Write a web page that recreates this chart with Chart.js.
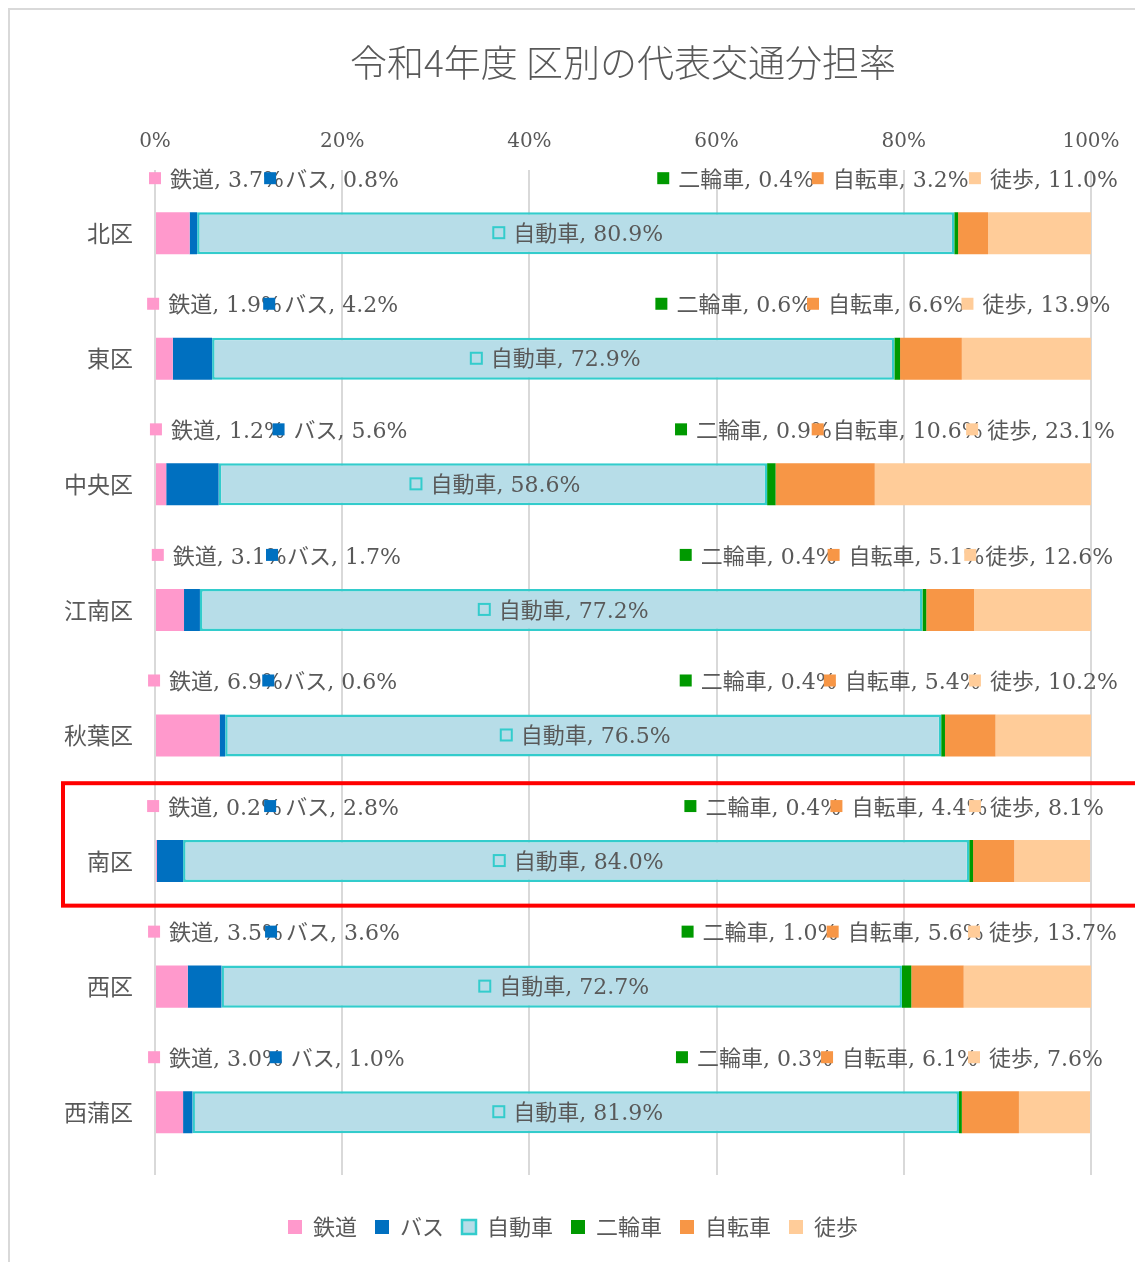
<!DOCTYPE html>
<html lang="ja">
<head>
<meta charset="utf-8">
<title>令和4年度 区別の代表交通分担率</title>
<script src="https://cdn.jsdelivr.net/npm/chart.js@4/dist/chart.umd.min.js"></script>
<style>
  html, body { margin: 0; padding: 0; background: #fff; }
  #wrap { position: relative; width: 1135px; height: 1262px; }
</style>
</head>
<body>
<div id="wrap"><canvas id="modalChart" width="1135" height="1262"></canvas></div>
<script>
// 区 (categories)
const wards = ['北区', '東区', '中央区', '江南区', '秋葉区', '南区', '西区', '西蒲区'];

// 代表交通手段別の分担率 (%)
const railShare  = [3.7, 1.9, 1.2, 3.1, 6.9, 0.2, 3.5, 3.0];
const busShare   = [0.8, 4.2, 5.6, 1.7, 0.6, 2.8, 3.6, 1.0];
const carShare   = [80.9, 72.9, 58.6, 77.2, 76.5, 84.0, 72.7, 81.9];
const motoShare  = [0.4, 0.6, 0.9, 0.4, 0.4, 0.4, 1.0, 0.3];
const bikeShare  = [3.2, 6.6, 10.6, 5.1, 5.4, 4.4, 5.6, 6.1];
const walkShare  = [11.0, 13.9, 23.1, 12.6, 10.2, 8.1, 13.7, 7.6];

const axisTicks = [0, 20, 40, 60, 80, 100];
const highlightWard = '南区';

// where each outside data label sits (in % along the axis), one row per series
const labelAnchorX = {
  '鉄道':   [0.0, -0.2, 0.1, 0.3, -0.1, -0.2, -0.1, -0.1],
  'バス':   [12.3, 12.2, 13.2, 12.5, 12.1, 12.3, 12.4, 12.9],
  '二輪車': [54.3, 54.1, 56.2, 56.7, 56.7, 57.2, 56.9, 56.3],
  '自転車': [70.8, 70.3, 70.8, 72.5, 72.1, 72.8, 72.4, 71.8],
  '徒歩':   [87.6, 86.8, 87.3, 87.1, 87.6, 87.6, 87.5, 87.5]
};

const TEXT = '#595959';
const GRID = '#d9d9d9';
const FONT = '"DejaVu Serif", "Noto Sans CJK JP", serif';
const CJK = '"Noto Sans CJK JP", "DejaVu Serif", sans-serif';

const series = [
  { label: '鉄道',   data: railShare, bg: '#FF99CC', border: '#FF99CC', bw: 0 },
  { label: 'バス',   data: busShare,  bg: '#0070C0', border: '#0070C0', bw: 0 },
  { label: '自動車', data: carShare,  bg: '#B7DDE8', border: '#33CCCC', bw: 2.5 },
  { label: '二輪車', data: motoShare, bg: '#009900', border: '#009900', bw: 0 },
  { label: '自転車', data: bikeShare, bg: '#F79646', border: '#F79646', bw: 0 },
  { label: '徒歩',   data: walkShare, bg: '#FFCC99', border: '#FFCC99', bw: 0 }
];

// frame + red highlight box
const framePlugin = {
  id: 'frame',
  beforeDraw(chart) {
    const ctx = chart.ctx;
    ctx.save();
    ctx.fillStyle = '#fff';
    ctx.fillRect(0, 0, chart.width, chart.height);
    ctx.strokeStyle = GRID;
    ctx.lineWidth = 2;
    ctx.strokeRect(9, 9, chart.width + 20, chart.height + 20);
    ctx.restore();
  },
  afterDraw(chart) {
    const y = chart.scales.y;
    const i = wards.indexOf(highlightWard);
    if (i < 0) return;
    const step = Math.abs(y.getPixelForValue(1) - y.getPixelForValue(0));
    const c = y.getPixelForValue(i);
    const ctx = chart.ctx;
    ctx.save();
    ctx.strokeStyle = '#FF0000';
    ctx.lineWidth = 4;
    ctx.strokeRect(63, c - step * 0.62, chart.width + 20, step * 0.975);
    ctx.restore();
  }
};

// Excel-style data labels: legend key + "系列名, 値%"
const labelPlugin = {
  id: 'seriesLabels',
  afterDatasetsDraw(chart) {
    const ctx = chart.ctx;
    const x = chart.scales.x;
    ctx.save();
    ctx.textBaseline = 'middle';
    ctx.textAlign = 'left';
    ctx.font = '22px ' + FONT;
    wards.forEach((w, i) => {
      chart.data.datasets.forEach((ds, d) => {
        const bar = chart.getDatasetMeta(d).data[i];
        const text = ds.label + ', ' + ds.data[i].toFixed(1) + '%';
        let mx, my;
        if (ds.label === '自動車') {
          const tw = ctx.measureText(text).width + 21;
          mx = (bar.base + bar.x) / 2 - tw / 2 + 8;
          my = bar.y;
        } else {
          mx = x.getPixelForValue(labelAnchorX[ds.label][i]);
          my = bar.y - 54;
        }
        if (ds.label === '自動車') {
          ctx.fillStyle = ds.backgroundColor;
          ctx.fillRect(mx - 5, my - 6, 11, 11);
          ctx.strokeStyle = ds.borderColor;
          ctx.lineWidth = 2;
          ctx.strokeRect(mx - 5, my - 6, 11, 11);
        } else {
          ctx.fillStyle = ds.backgroundColor;
          ctx.fillRect(mx - 6, my - 7, 12, 12);
        }
        ctx.fillStyle = TEXT;
        ctx.fillText(text, mx + 15, my + 2);
      });
    });
    ctx.restore();
  }
};

new Chart(document.getElementById('modalChart'), {
  type: 'bar',
  data: {
    labels: wards,
    datasets: series.map(s => ({
      label: s.label,
      data: s.data,
      backgroundColor: s.bg,
      borderColor: s.border,
      borderWidth: s.bw,
      borderSkipped: false,
      barPercentage: 0.335,
      categoryPercentage: 1.0
    }))
  },
  options: {
    indexAxis: 'y',
    responsive: false,
    animation: false,
    layout: { padding: { top: 14, left: 55, right: 44, bottom: 14 } },
    scales: {
      x: {
        position: 'top',
        stacked: true,
        min: 0,
        max: 100,
        afterBuildTicks(scale) { scale.ticks = axisTicks.map(v => ({ value: v })); },
        afterFit(scale) {
          scale.height = 45;
          scale.paddingLeft = 0;
          scale.paddingRight = 30;
        },
        ticks: {
          callback: v => v + '%',
          color: TEXT,
          font: { size: 20, family: FONT },
          padding: 17,
          maxRotation: 0
        },
        grid: { color: GRID, lineWidth: 2, drawTicks: false },
        border: { display: false }
      },
      y: {
        stacked: true,
        afterFit(scale) { scale.width = 100; },
        ticks: {
          color: TEXT,
          font: { size: 23, family: CJK },
          padding: 22
        },
        grid: { display: false, drawTicks: false },
        border: { display: false }
      }
    },
    plugins: {
      title: {
        display: true,
        fullSize: false,
        text: '令和4年度 区別の代表交通分担率',
        color: TEXT,
        font: { size: 37, family: CJK, weight: '300' },
        padding: { top: 27, bottom: 40 }
      },
      legend: {
        position: 'bottom',
        title: { display: true, text: ' ', padding: { top: 11, bottom: 0 }, font: { size: 10 } },
        labels: {
          color: TEXT,
          font: { size: 22, family: CJK },
          boxWidth: 14,
          boxHeight: 14,
          padding: 18,
          generateLabels(chart) {
            return chart.data.datasets.map((ds, i) => ({
              text: ds.label,
              fillStyle: ds.backgroundColor,
              strokeStyle: ds.borderColor,
              lineWidth: ds.borderWidth,
              fontColor: TEXT,
              datasetIndex: i,
              hidden: false
            }));
          }
        }
      },
      tooltip: { enabled: false }
    }
  },
  plugins: [framePlugin, labelPlugin]
});
</script>
</body>
</html>
